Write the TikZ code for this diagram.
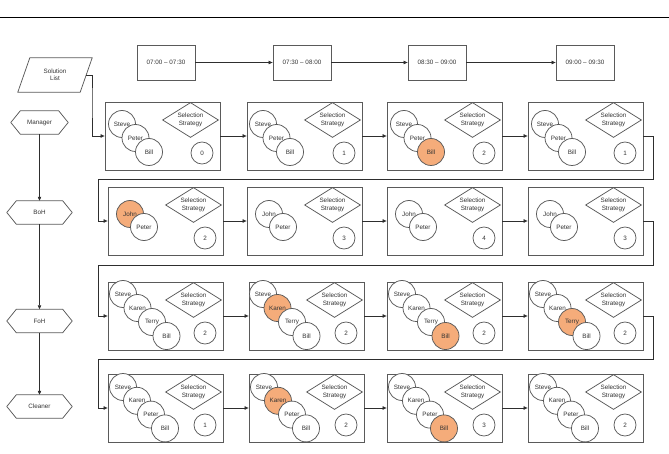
\documentclass[tikz,border=0pt]{standalone}
\usepackage{fontspec}
\setmainfont{Liberation Sans}
\usetikzlibrary{shapes.geometric,arrows.meta}
\definecolor{shapec}{HTML}{5A5A5A}
\definecolor{linec}{HTML}{2E2E2E}
\definecolor{txtc}{HTML}{333333}
\definecolor{orangec}{RGB}{245,172,122}
\newcommand\pfont{\fontsize{6.3}{7.4}\selectfont}
\tikzset{
  shapeline/.style={draw=shapec, line width=0.75pt},
  statebox/.style={shapeline, rectangle, minimum width=115pt, minimum height=68pt, inner sep=0pt},
  strat/.style={shapeline, diamond, aspect=1.6, minimum width=56pt, minimum height=35pt, inner sep=0pt, align=center, font=\pfont, text=txtc},
  numc/.style={shapeline, circle, minimum size=22pt, inner sep=0pt, font=\pfont, text=txtc},
  person/.style={shapeline, circle, fill=white, minimum size=27pt, inner sep=0pt, font=\pfont, text=txtc},
  tbox/.style={shapeline, rectangle, minimum width=58pt, minimum height=35pt, inner sep=0pt, font=\pfont, text=txtc},
  hexin/.style={rectangle, minimum height=23pt, inner sep=0pt, font=\pfont, text=txtc},
  solin/.style={rectangle, minimum width=62pt, minimum height=34pt, inner sep=0pt, align=center, font=\pfont, text=txtc},
  conn/.style={draw=linec, line width=0.7pt, -{Triangle[length=4pt,width=3.4pt]}},
}
\newcommand\stbox[4]{%
  \node[statebox] (#1) at ({#2+57.5},{#3+34}) {};
  \node[strat] (#1s) at ({#2+85.5},{#3+18}) {Selection\\Strategy};
  \node[numc] (#1n) at ({#2+97},{#3+51}) {#4};
}
\newcommand\ppl[6]{%
  \foreach \nm/\fc [count=\i from 0] in {#6} {
    \node[person, fill=\fc] (#1p\i) at ({#2+\i*#4},{#3+\i*#5}) {\nm};
  }
}
\newcommand\hexn[4]{%
  \node[hexin, minimum width=#4] (#1) at (#2) {#3};
  \draw[shapeline] ([xshift=-9.5pt]#1.west) -- (#1.north west) -- (#1.north east) -- ([xshift=9.5pt]#1.east) -- (#1.south east) -- (#1.south west) -- cycle;
}
\begin{document}
\begin{tikzpicture}[x=1pt,y=-1pt]
\useasboundingbox (0,0) rectangle (669,454);
% top rule
\coordinate (ruleL) at (0,18);
\coordinate (ruleR) at (669,18);
\draw[black, line width=1pt] (ruleL) -- (ruleR);

% time slots
\node[tbox] (t1) at (166,62.5) {07:00 – 07:30};
\node[tbox] (t2) at (302,62.5) {07:30 – 08:00};
\node[tbox] (t3) at (437,62.5) {08:30 – 09:00};
\node[tbox] (t4) at (585,62.5) {09:00 – 09:30};
\draw[conn] (t1) -- (t2);
\draw[conn] (t2) -- (t3);
\draw[conn] (t3) -- (t4);

% solution list
\node[solin] (sol) at (55,75) {Solution\\List};
\draw[shapeline] ([xshift=-6pt]sol.south west) -- ([xshift=6pt]sol.north west) -- ([xshift=6pt]sol.north east) -- ([xshift=-6pt]sol.south east) -- cycle;

% roles
\hexn{mgr}{39.5,122.5}{Manager}{38pt}
\hexn{boh}{39.5,212.5}{BoH}{46pt}
\hexn{foh}{39.5,321}{FoH}{46pt}
\hexn{cln}{39.5,406.5}{Cleaner}{46pt}
\draw[conn] (mgr) -- (boh);
\draw[conn] (boh) -- (foh);
\draw[conn] (foh) -- (cln);

% row 1
\stbox{b11}{105}{102}{0}
\ppl{b11}{122}{124}{13.5}{14}{Steve/white,Peter/white,Bill/white}
\stbox{b12}{247}{102}{1}
\ppl{b12}{263}{124}{13.5}{14}{Steve/white,Peter/white,Bill/white}
\stbox{b13}{387}{102}{2}
\ppl{b13}{404}{124}{13.5}{14}{Steve/white,Peter/white,Bill/orangec}
\stbox{b14}{528}{102}{1}
\ppl{b14}{545}{124}{13.5}{14}{Steve/white,Peter/white,Bill/white}

% row 2
\stbox{b21}{108}{187}{2}
\ppl{b21}{130}{214}{14}{13}{John/orangec,Peter/white}
\stbox{b22}{247}{187}{3}
\ppl{b22}{269}{214}{14}{13}{John/white,Peter/white}
\stbox{b23}{387}{187}{4}
\ppl{b23}{409}{214}{14}{13}{John/white,Peter/white}
\stbox{b24}{528}{187}{3}
\ppl{b24}{550}{214}{14}{13}{John/white,Peter/white}

% row 3
\stbox{b31}{108}{282}{2}
\ppl{b31}{123}{294}{14.5}{14}{Steve/white,Karen/white,Terry/white,Bill/white}
\stbox{b32}{249}{282}{2}
\ppl{b32}{263}{294}{14.5}{14}{Steve/white,Karen/orangec,Terry/white,Bill/white}
\stbox{b33}{387}{282}{2}
\ppl{b33}{402}{294}{14.5}{14}{Steve/white,Karen/white,Terry/white,Bill/orangec}
\stbox{b34}{528}{282}{2}
\ppl{b34}{543}{294}{14.5}{14}{Steve/white,Karen/white,Terry/orangec,Bill/white}

% row 4
\stbox{b41}{108}{374}{1}
\ppl{b41}{123}{387}{14}{13.8}{Steve/white,Karen/white,Peter/white,Bill/white}
\stbox{b42}{249}{374}{2}
\ppl{b42}{264}{387}{14}{13.8}{Steve/white,Karen/orangec,Peter/white,Bill/white}
\stbox{b43}{387}{374}{3}
\ppl{b43}{402}{387}{14}{13.8}{Steve/white,Karen/white,Peter/white,Bill/orangec}
\stbox{b44}{528}{374}{2}
\ppl{b44}{543}{387}{14}{13.8}{Steve/white,Karen/white,Peter/white,Bill/white}

% connectors within rows
\foreach \r in {1,2,3,4} {
  \draw[conn] (b\r1) -- (b\r2);
  \draw[conn] (b\r2) -- (b\r3);
  \draw[conn] (b\r3) -- (b\r4);
}

% solution list into first box
\coordinate (c0) at (92,100);
\draw[conn] (sol.east) -| (c0) |- (b11.west);

% row wrap connectors
\coordinate (w1a) at (653,179);
\coordinate (w1b) at (98,179);
\draw[conn] (b14.east) -| (w1a) -- (w1b) |- (b21.west);
\coordinate (w2a) at (653,265.5);
\coordinate (w2b) at (98,265.5);
\draw[conn] (b24.east) -| (w2a) -- (w2b) |- (b31.west);
\coordinate (w3a) at (653,359);
\coordinate (w3b) at (98,359);
\draw[conn] (b34.east) -| (w3a) -- (w3b) |- (b41.west);
\end{tikzpicture}
\end{document}
